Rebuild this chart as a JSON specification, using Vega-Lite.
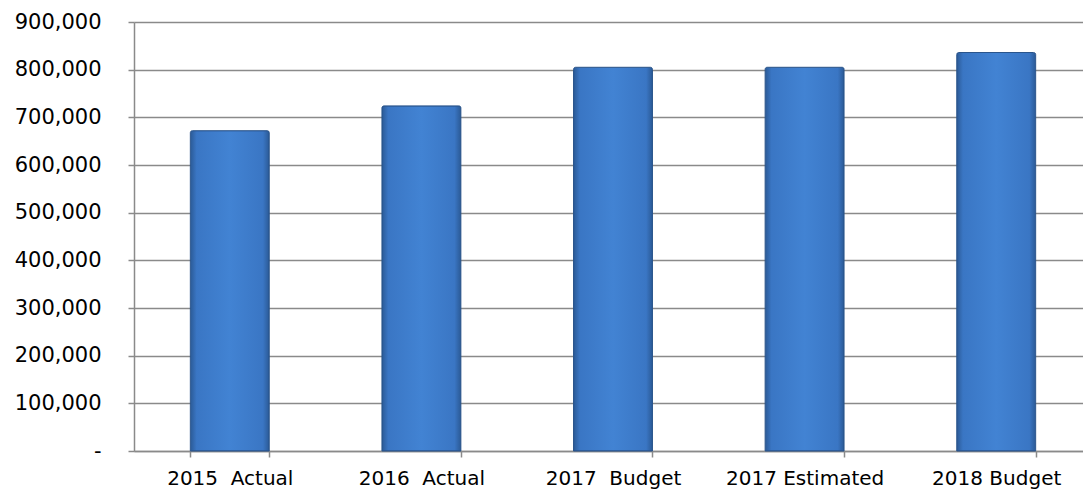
{
  "$schema": "https://vega.github.io/schema/vega-lite/v6.json",
  "autosize": {"type": "none"},
  "padding": {"left": 134, "top": 22, "right": 0, "bottom": 41},
  "width": 949,
  "height": 429,
  "background": "white",
  "config": {"view": {"stroke": null}},
  "data": {
    "values": [
      {"category": "2015 Actual", "value": 672000},
      {"category": "2016 Actual", "value": 724000},
      {"category": "2017 Budget", "value": 805000},
      {"category": "2017 Estimated", "value": 805000},
      {"category": "2018 Budget", "value": 836000}
    ]
  },
  "mark": {
    "type": "bar",
    "stroke": "#2a558c",
    "strokeWidth": 1,
    "cornerRadiusTopLeft": 2,
    "cornerRadiusTopRight": 2,
    "color": {
      "gradient": "linear",
      "x1": 0, "y1": 0, "x2": 1, "y2": 0,
      "stops": [
        {"offset": 0, "color": "#2b5a96"},
        {"offset": 0.08, "color": "#3a76c4"},
        {"offset": 0.5, "color": "#4283d3"},
        {"offset": 0.92, "color": "#3a76c4"},
        {"offset": 1, "color": "#2b5a96"}
      ]
    }
  },
  "encoding": {
    "x": {
      "field": "category",
      "type": "nominal",
      "sort": null,
      "scale": {"range": [0, 958], "paddingInner": 0.588, "paddingOuter": 0.294},
      "axis": {
        "title": null,
        "labelAngle": 0,
        "labelFont": "DejaVu Sans",
        "labelFontSize": 20,
        "labelColor": "#000000",
        "labelPadding": 11,
        "labelExpr": "datum.label == '2017 Estimated' || datum.label == '2018 Budget' ? datum.label : replace(datum.label, ' ', '\u00a0\u00a0')",
        "domainColor": "#8a8a8a",
        "domainWidth": 1.5,
        "tickColor": "#8a8a8a",
        "tickWidth": 1.5,
        "tickSize": 6,
        "tickBand": "extent",
        "grid": false
      }
    },
    "y": {
      "field": "value",
      "type": "quantitative",
      "scale": {"domain": [0, 900000], "nice": false},
      "axis": {
        "title": null,
        "values": [0, 100000, 200000, 300000, 400000, 500000, 600000, 700000, 800000, 900000],
        "labelExpr": "datum.value == 0 ? '-\u00a0\u00a0\u00a0\u00a0\u00a0' : format(datum.value, ',')",
        "labelFont": "DejaVu Sans",
        "labelFontSize": 21,
        "labelColor": "#000000",
        "labelPadding": 27,
        "domainColor": "#8a8a8a",
        "domainWidth": 1.5,
        "tickColor": "#8a8a8a",
        "tickWidth": 1.5,
        "tickSize": 6,
        "grid": true,
        "gridColor": "#8a8a8a",
        "gridWidth": 1.5
      }
    }
  }
}
